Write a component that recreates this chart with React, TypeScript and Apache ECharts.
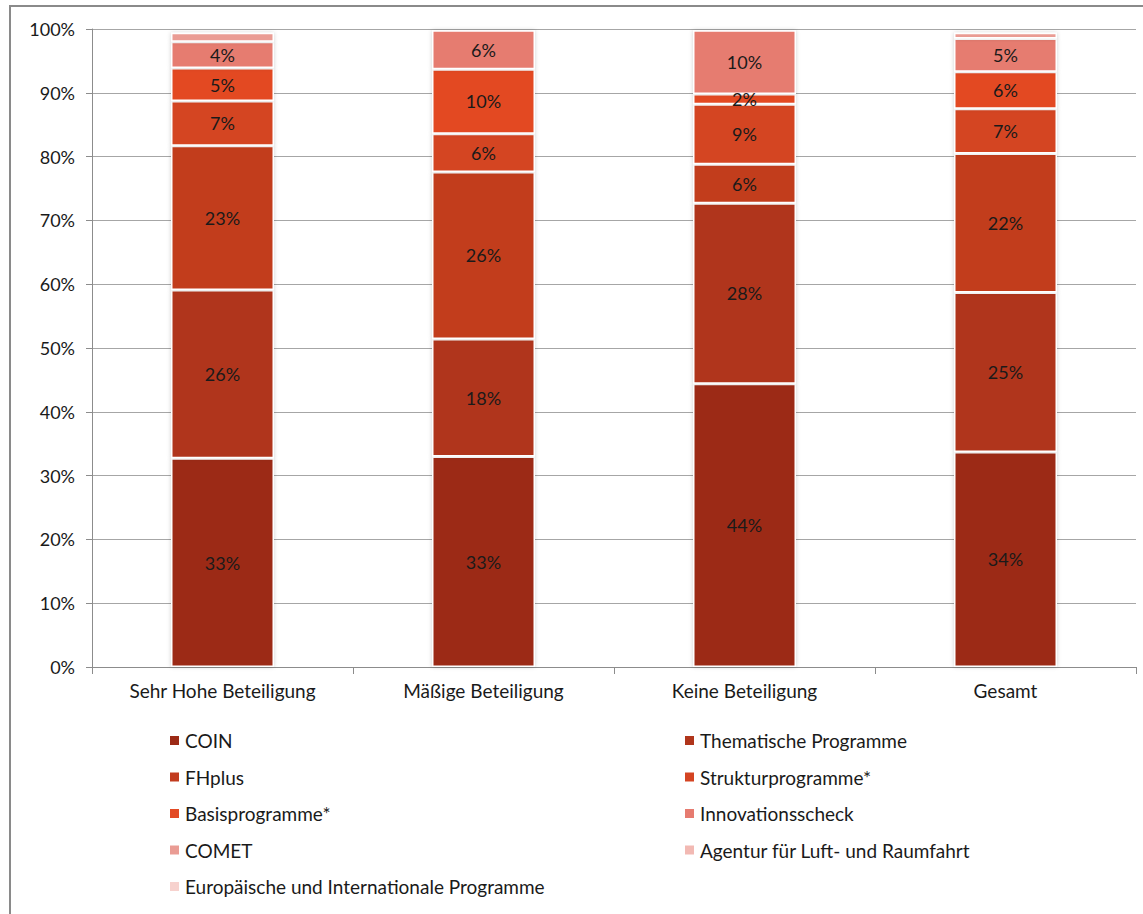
import React, { useEffect, useRef } from "react";
import * as echarts from "echarts";

const categories = ["Sehr Hohe Beteiligung", "Mäßige Beteiligung", "Keine Beteiligung", "Gesamt"];
const yTicks = [0, 10, 20, 30, 40, 50, 60, 70, 80, 90, 100];

const seriesNames = [
  "COIN",
  "Thematische Programme",
  "FHplus",
  "Strukturprogramme*",
  "Basisprogramme*",
  "Innovationsscheck",
  "COMET",
  "Agentur für Luft- und Raumfahrt",
  "Europäische und Internationale Programme",
];

const coin = [32.7, 33.0, 44.4, 33.7];
const thematische = [26.4, 18.4, 28.3, 25.0];
const fhplus = [22.6, 26.2, 6.1, 21.8];
const struktur = [7.0, 6.0, 9.4, 7.0];
const basis = [5.2, 10.1, 1.6, 5.8];
const innovation = [4.1, 6.1, 10.0, 5.2];
const comet = [1.4, 0, 0, 0.9];
const agentur = [0, 0, 0, 0];
const europa = [0, 0, 0, 0];

const seriesValues = [coin, thematische, fhplus, struktur, basis, innovation, comet, agentur, europa];

const colors = ["#9C2A16", "#B0351B", "#C23C1F", "#D44422", "#E34A24", "#E67B70", "#EA9C94", "#F2B9B3", "#F7D2CE"];

const FONT = "Lato";

export default function App() {
  const ref = useRef<HTMLDivElement>(null);
  useEffect(() => {
    document.body.style.margin = "0";
    if (!ref.current) return;
    const chart = echarts.init(ref.current, null, { renderer: "svg" });
    const series = seriesNames.map((name, i) => ({
      name,
      type: "bar",
      stack: "total",
      barWidth: 103,
      data: seriesValues[i],
      itemStyle: {
        color: colors[i],
        borderColor: "#ffffff",
        borderWidth: 1.5,
        shadowBlur: 4,
        shadowColor: "rgba(0,0,0,0.18)",
      },
      label: {
        show: true,
        position: "inside",
        color: "#1a1a1a",
        fontFamily: FONT,
        fontSize: 18,
        formatter: (p: any) => (p.value >= 1.5 ? Math.round(p.value) + "%" : ""),
      },
    }));
    const leftNames = seriesNames.filter((_, i) => i % 2 === 0);
    const rightNames = seriesNames.filter((_, i) => i % 2 === 1);
    const legendCommon = {
      orient: "vertical",
      icon: "rect",
      itemWidth: 11,
      itemHeight: 11,
      itemGap: 17.5,
      textStyle: { fontFamily: FONT, fontSize: 19, color: "#1a1a1a", lineHeight: 18 },
    };
    chart.setOption({
      animation: false,
      backgroundColor: "#ffffff",
      grid: { left: 92, right: 7, top: 29, bottom: 247, containLabel: false },
      xAxis: {
        type: "category",
        data: categories,
        axisLine: { show: true, lineStyle: { color: "#8c8c8c", width: 1 } },
        axisTick: { show: true, length: 7, lineStyle: { color: "#8c8c8c" } },
        axisLabel: { fontFamily: FONT, fontSize: 19, color: "#1a1a1a", margin: 14 },
      },
      yAxis: {
        type: "value",
        min: 0,
        max: 100,
        interval: 10,
        axisLine: { show: true, lineStyle: { color: "#8c8c8c", width: 1 } },
        axisTick: { show: true, length: 6, lineStyle: { color: "#8c8c8c" } },
        axisLabel: {
          fontFamily: FONT,
          fontSize: 18,
          color: "#1a1a1a",
          margin: 17,
          formatter: (v: number) => (yTicks.includes(v) ? v + "%" : ""),
        },
        splitLine: { show: true, lineStyle: { color: "#a6a6a6", width: 1 } },
      },
      legend: [
        { ...legendCommon, left: 163, top: 726, data: leftNames },
        { ...legendCommon, left: 678, top: 726, data: rightNames },
      ],
      graphic: [
        {
          type: "rect",
          shape: { x: 10, y: 6, width: 1150, height: 920 },
          style: { fill: "none", stroke: "#8a8a8a", lineWidth: 2 },
          silent: true,
        },
      ],
      series,
    });
    return () => chart.dispose();
  }, []);
  return <div ref={ref} style={{ width: 1143, height: 914 }} />;
}
